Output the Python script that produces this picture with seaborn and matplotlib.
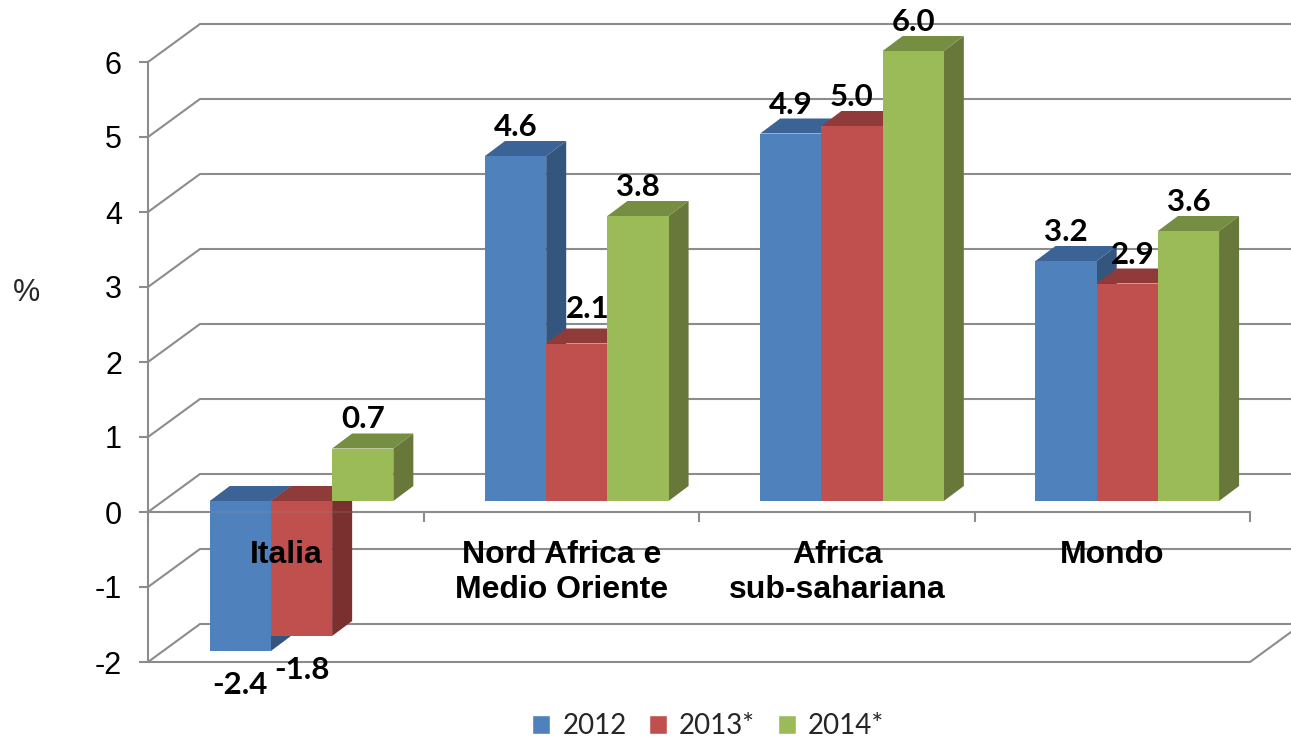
import numpy as np
import pandas as pd
import seaborn as sns
import matplotlib.pyplot as plt
from matplotlib.patches import Polygon
from matplotlib.transforms import ScaledTranslation

regions = ['Italia', 'Nord Africa e\nMedio Oriente', 'Africa\nsub-sahariana', 'Mondo']
years = ['2012', '2013*', '2014*']
values_2012 = [-2.4, 4.6, 4.9, 3.2]
values_2013 = [-1.8, 2.1, 5.0, 2.9]
values_2014 = [0.7, 3.8, 6.0, 3.6]
y_ticks = [-2, -1, 0, 1, 2, 3, 4, 5, 6]

front_colors = ['#4F81BD', '#C0504D', '#9BBB59']
top_colors = ['#3B6396', '#8F3B39', '#768E42']
side_colors = ['#34557E', '#7A302E', '#67783A']
grid_color = '#8C8C8C'

W, H = 1291, 737
DPI = 100
PX = 72 / DPI  # points per pixel

sns.set_theme(style='white')
plt.rcParams['font.family'] = ['Liberation Sans', 'DejaVu Sans']

df = pd.DataFrame({
    'region': regions * 3,
    'year': np.repeat(years, 4),
    'growth': values_2012 + values_2013 + values_2014,
})
series = [values_2012, values_2013, values_2014]

fig = plt.figure(figsize=(W / DPI, H / DPI), dpi=DPI)


def px_axes(left, top, right, bottom):
    return fig.add_axes([left / W, 1 - bottom / H, (right - left) / W, (bottom - top) / H])


# front plane of the 3D box: real y axis, zero line and the walls
wall = px_axes(148, 62, 1250, 662)
wall.set_xlim(0, 4)
wall.set_ylim(-2, 6)
wall.patch.set_visible(False)
for name in ['top', 'right']:
    wall.spines[name].set_visible(False)
wall.spines['bottom'].set_position(('data', 0))
for name in ['left', 'bottom']:
    wall.spines[name].set_color(grid_color)
    wall.spines[name].set_linewidth(1.5)
wall.set_yticks(y_ticks, [str(v) for v in y_ticks])
wall.set_xticks(range(5), [''] * 5)
wall.tick_params(axis='y', left=True, length=9 * PX, width=1.5, color=grid_color,
                 pad=17 * PX, labelsize=22, labelcolor='black')
wall.tick_params(axis='x', bottom=True, length=10 * PX, width=1.5, color=grid_color)
wall.set_ylabel('%', rotation=0, fontsize=22, va='center', ha='center')
wall.yaxis.set_label_coords((27 - 148) / 1102, (662 - 293) / 600)

wall_dx = 52 / 275.5
wall_dy = 38 / 75
right_edge = (W - 148) / 275.5
for v in y_ticks:
    wall.plot([0, wall_dx, right_edge], [v, v + wall_dy, v + wall_dy],
              color=grid_color, lw=1.5, clip_on=False, solid_joinstyle='round')
wall.plot([0, 4, 4 + wall_dx], [-2, -2, -2 + wall_dy], color=grid_color, lw=1.5, clip_on=False)

# bars sit a little behind the front plane
ax = px_axes(163.9, 51, 1264.9, 651)
ax.patch.set_visible(False)
sns.barplot(data=df, x='region', y='growth', hue='year', hue_order=years,
            palette=front_colors, saturation=1, width=0.667, gap=0, ax=ax)
ax.set_xlim(-0.5, 3.5)
ax.set_ylim(-2, 6)
ax.set_xlabel('')
ax.set_ylabel('')
ax.yaxis.set_visible(False)
for spine in ax.spines.values():
    spine.set_visible(False)
ax.spines['bottom'].set_position(('data', 0))
ax.xaxis.set_zorder(20)  # category names stay on top of the bars
ax.tick_params(axis='x', length=0, pad=39 * PX, labelsize=23)
shift = ScaledTranslation(-15 / DPI, 0, fig.dpi_scale_trans)
for label in ax.get_xticklabels():
    label.set_fontweight('bold')
    label.set_color('black')
    label.set_linespacing(1.2)
    label.set_transform(label.get_transform() + shift)

bar_dx = 20 / 275
bar_dy = 15 / 75
# hand placed labels: (series, region) -> pixels right, up
label_nudges = {(1, 1): (11, 5), (1, 3): (5, 0)}

for i, container in enumerate(ax.containers):
    for j, bar in enumerate(container):
        x0, x1 = bar.get_x(), bar.get_x() + bar.get_width()
        value = series[i][j]
        low = max(min(value, 0), -2)
        high = max(value, 0)
        bar.set_zorder(3 * i + 4)
        bar.set_linewidth(0)
        ax.add_patch(Polygon([(x1, low), (x1 + bar_dx, low + bar_dy), (x1 + bar_dx, high + bar_dy), (x1, high)],
                             facecolor=side_colors[i], lw=0, zorder=3 * i + 2, clip_on=False))
        ax.add_patch(Polygon([(x0, high), (x0 + bar_dx, high + bar_dy), (x1 + bar_dx, high + bar_dy), (x1, high)],
                             facecolor=top_colors[i], lw=0, zorder=3 * i + 3, clip_on=False))
        nudge_x, nudge_y = label_nudges.get((i, j), (0, 0))
        anchor = low if value < 0 else high
        off = -34 if value < 0 else 29
        ax.annotate(f'{value:.1f}', xy=((x0 + x1) / 2, anchor),
                    xytext=(nudge_x * PX, (off + nudge_y) * PX), textcoords='offset points',
                    ha='center', va='center', fontsize=22.5, fontweight='bold',
                    family=['Lato', 'DejaVu Sans'], color='black', zorder=20, annotation_clip=False)

# the zero line shows faintly through the negative bars
ax.plot([-0.5, 0.5], [-11 / 75, -11 / 75], color=grid_color, lw=1.5, alpha=0.2, zorder=15)

sns.move_legend(ax, 'center', bbox_to_anchor=(708 / W, 1 - 726 / H), bbox_transform=fig.transFigure,
                ncol=3, title=None, frameon=False, borderpad=0, handlelength=0.65, handleheight=0.65,
                handletextpad=0.43, columnspacing=0.81, prop={'family': ['Lato', 'DejaVu Sans'], 'size': 20})

fig.savefig('out.png', dpi=DPI)
